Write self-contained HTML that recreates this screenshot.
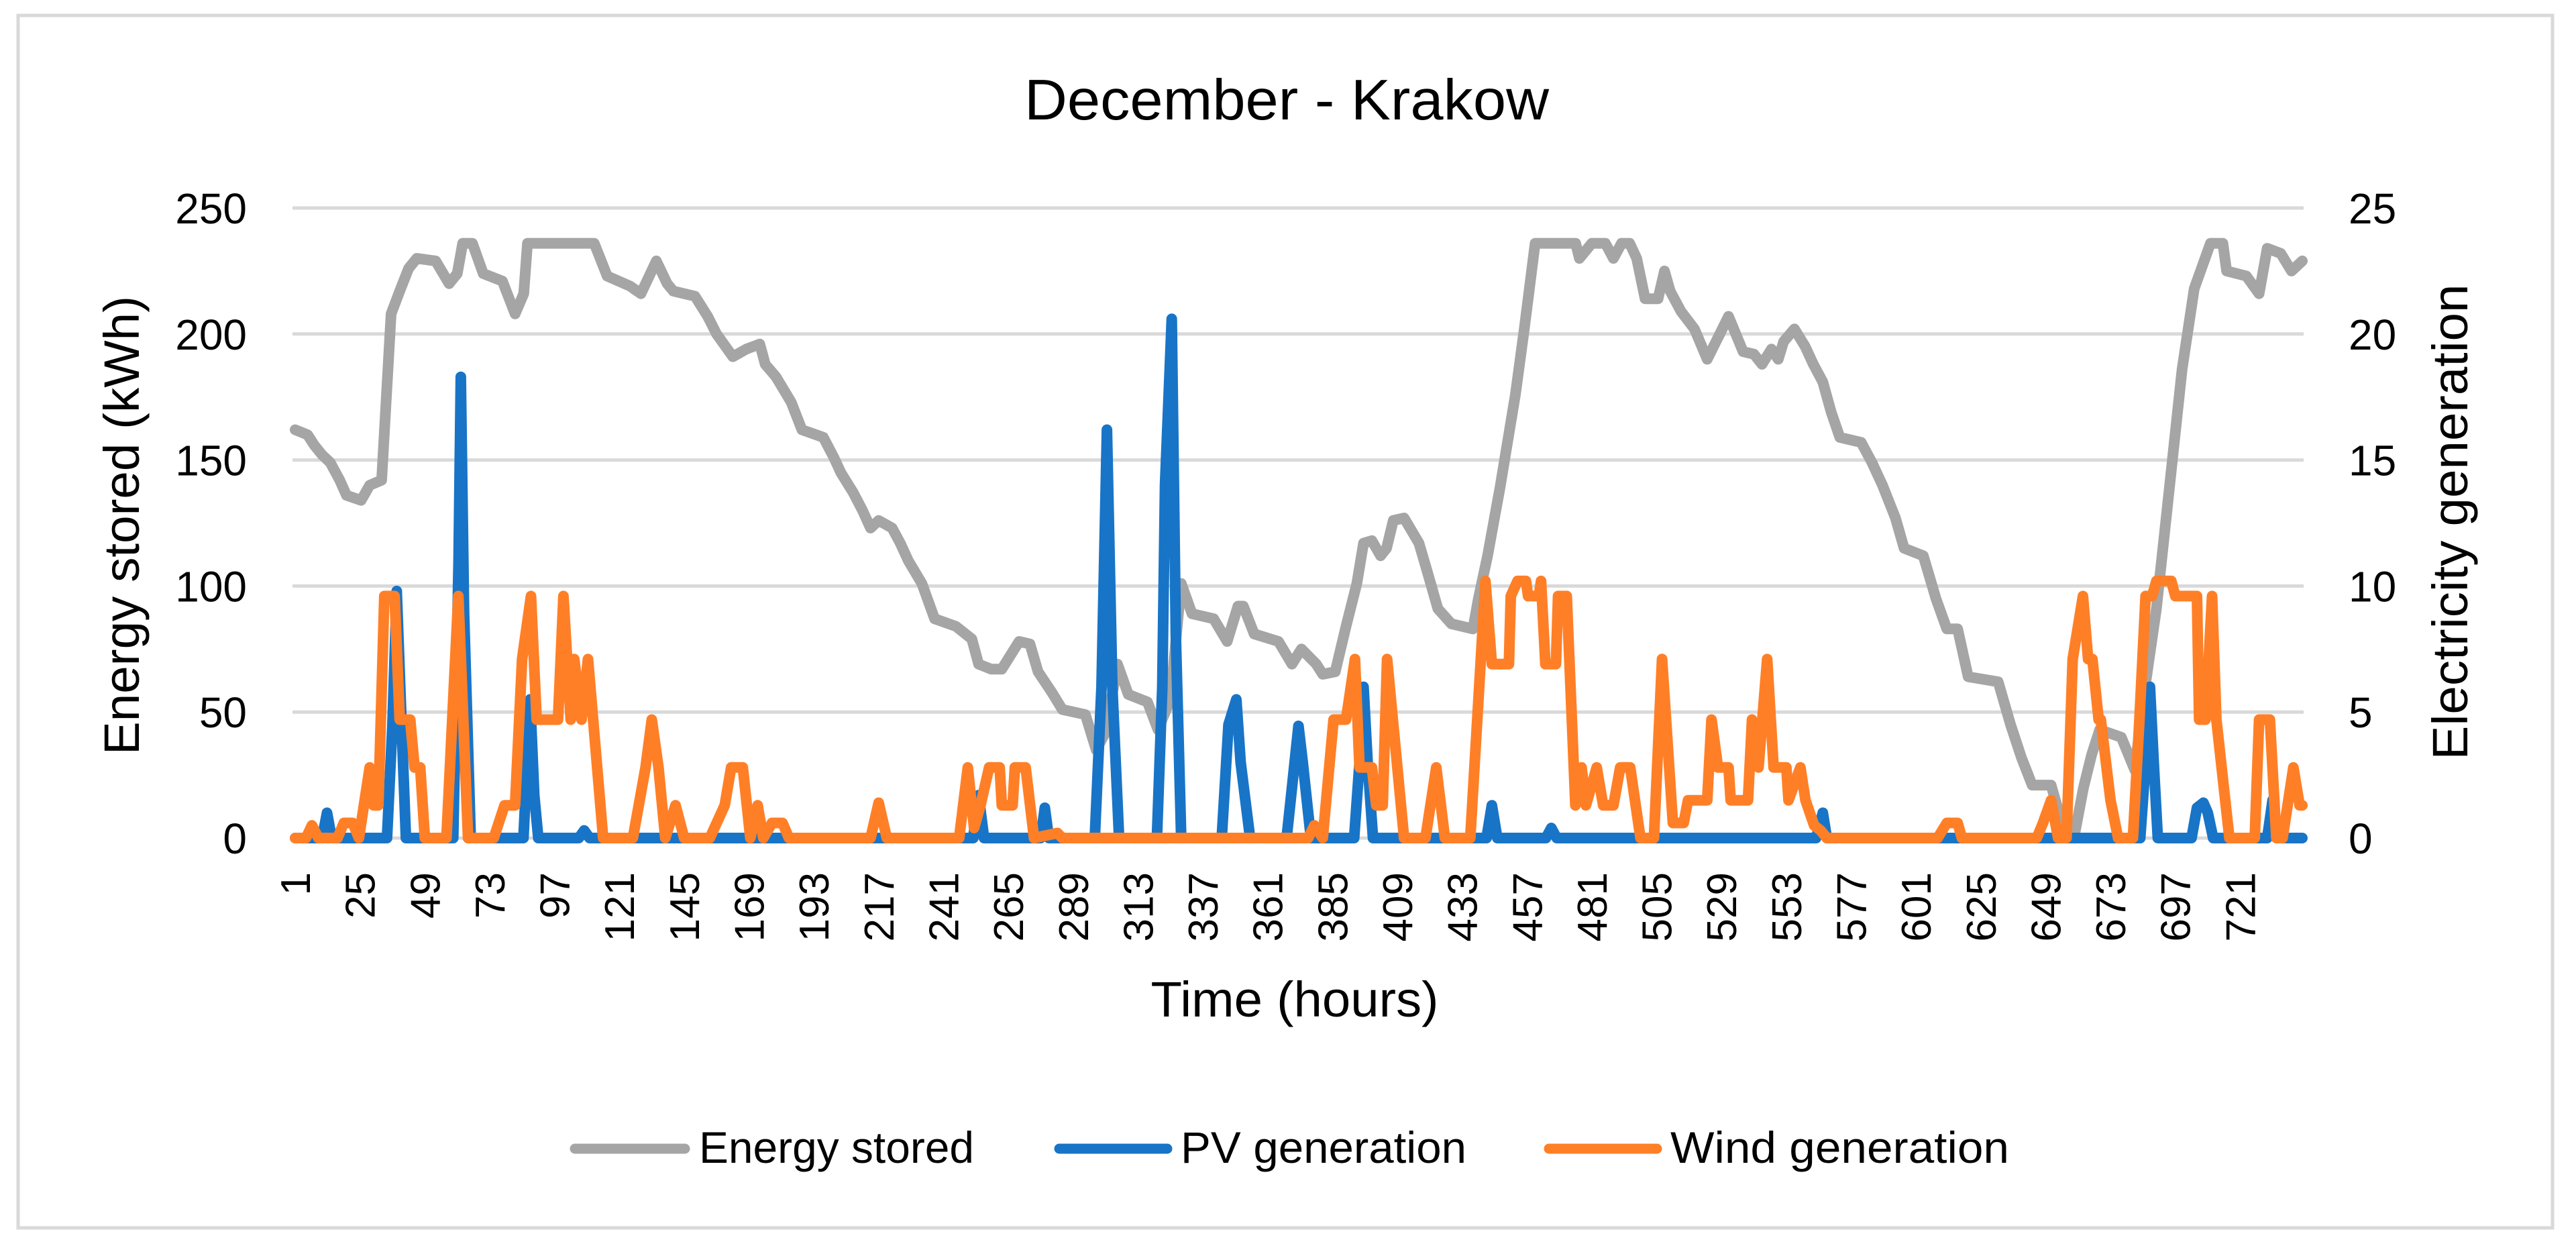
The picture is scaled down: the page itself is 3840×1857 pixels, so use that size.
<!DOCTYPE html>
<html><head><meta charset="utf-8"><style>
html,body{margin:0;padding:0;background:#fff}
svg{display:block}
text{font-family:"Liberation Sans",sans-serif;fill:#000}
</style></head><body>
<svg id="chart" width="3840" height="1857" viewBox="0 0 3840 1857" xmlns="http://www.w3.org/2000/svg">
<rect x="27" y="23" width="3778" height="1807" fill="#fff" stroke="#d9d9d9" stroke-width="5"/>
<text x="1918" y="178" font-size="85" text-anchor="middle" textLength="782" lengthAdjust="spacingAndGlyphs">December - Krakow</text>
<g id="grid"></g>
<g id="yleft"></g>
<g id="yright"></g>
<g id="xaxis"></g>
<g id="series"></g>
<text transform="translate(207,783) rotate(-90)" font-size="74" text-anchor="middle" textLength="684" lengthAdjust="spacingAndGlyphs">Energy stored (kWh)</text>
<text transform="translate(3678,778) rotate(-90)" font-size="74" text-anchor="middle" textLength="709" lengthAdjust="spacingAndGlyphs">Electricity generation</text>
<text x="1930" y="1515" font-size="74" text-anchor="middle" textLength="429" lengthAdjust="spacingAndGlyphs">Time (hours)</text>
<g>
<g>
<line x1="857" y1="1712" x2="1021" y2="1712" stroke="#a5a5a5" stroke-width="15" stroke-linecap="round"/>
<text x="1042" y="1733" font-size="66" textLength="410" lengthAdjust="spacingAndGlyphs">Energy stored</text></g>
<g>
<line x1="1579" y1="1712" x2="1740" y2="1712" stroke="#1874c7" stroke-width="15" stroke-linecap="round"/>
<text x="1760" y="1733" font-size="66" textLength="426" lengthAdjust="spacingAndGlyphs">PV generation</text></g>
<g>
<line x1="2309" y1="1712" x2="2470" y2="1712" stroke="#ff7f27" stroke-width="15" stroke-linecap="round"/>
<text x="2490" y="1733" font-size="66" textLength="505" lengthAdjust="spacingAndGlyphs">Wind generation</text></g>
</g>
</svg>
<script>
const leftTicks = [0, 50, 100, 150, 200, 250];
const rightTicks = [0, 5, 10, 15, 20, 25];
const xTickLabels = [1,25,49,73,97,121,145,169,193,217,241,265,289,313,337,361,385,409,433,457,481,505,529,553,577,601,625,649,673,697,721];
const energyHours = [1,5.6,8,11,14,17.5,20,25.4,28.6,33,36.5,39.7,43,46,53,58,61,63,66.6,70.6,77.7,82.4,85.6,87,111.7,116.5,125,129,134.7,138.7,141,149,153.7,157,163,168,173,175,179,184.6,188.6,196.5,200.4,203,207.6,211,214,217,222,225,228,233,237.7,245.6,251.5,254,258.7,262.6,269,273,276,281,285,293.5,297.5,301,305.4,309.4,316.5,320.4,325,329,333,341,346,350,352,356,365,370,373.5,379,381.4,386,390,394,396.5,399.6,402.8,405,407.5,411.5,417,420,424,429,437,439,442.4,447,452.7,456,460,475,476.4,481,486,489,492,495,497.6,500.7,505.5,507.9,510,514,519,523.7,531.6,537,541,544,547.5,550,552,556,560,563,566.5,569.6,572.8,580.7,584.7,588.6,593.4,596.6,603.7,608.4,612.4,616.4,620.3,631.4,636,640,644,651,655,660,663,666,669,677,682,685,690,694.8,699.5,704,710,714.6,716,723.3,728,731,736,740,744];
const energyValues = [162,160,156,152,149,142,136,134,140,142,208,217,226,230,229,220,224,236,236,224,221,208,216,236,236,223,219,216,229,220,217,215,207,200,191,194,196,188,183,173,162,159,151,145,137,130,123,126,123,117,110,101,87,84,79,69,67,67,78,77,66,58,51,49,35,42,69,57,54,43,55,101,89,87,78,92,92,81,78,69,75,69,65,66,84,101,117,118,112,115,126,127,117,106,91,85,83,95,112,139,176,202,236,236,230,236,236,230,236,236,230,214,214,225,217,209,202,190,207,193,192,188,194,190,197,202,195,188,181,169,159,157,149,140,127,115,112,95,83,83,64,62,45,32,21,21,6,3,20,33,43,40,27,54,91,139,186,218,236,236,225,223,216,234,232,225,229];
const pvHours = [1,11,12.8,14.5,35,37,38.6,40.5,42,59.5,61.5,62.3,63.5,66,85.5,88,89.5,91,106,108,110,252,254,256,277,278.5,280,297,299.5,301.5,303.5,306,320,322,323,325.5,327,329,344,346.5,349.4,351,354.5,368,370,372.4,374,377,393,395,396.5,398,400,442,444,446,464,466,468,564,566.5,568,684,686,687.6,689,690.5,703,705,707.4,709,711,731,733,735,744];
const pvValues = [0,0,1.0,0,0,4.5,9.8,4.2,0,0,11,18.3,9,0,0,5.5,1.7,0,0,0.3,0,0,1.7,0,0,1.2,0,0,6,16.2,6,0,0,6,14,20.6,8,0,0,4.5,5.5,3,0,0,2,4.45,3,0,0,3,6.0,3,0,0,1.3,0,0,0.4,0,0,1.0,0,0,3,6.0,3,0,0,1.2,1.4,1,0,0,1.5,0,0];
const windHours = [1,5,7.2,9.6,16.7,19,22.3,24.6,28.6,30,31.8,34,37.8,39.7,43.6,45.2,47.3,49,57,61.4,65,74.5,78.5,82.4,85,88.3,90.4,98.3,100.3,103,104.3,107,109.4,115,126,130.7,133,135.5,138,141.8,145,154.5,160,162.4,166.7,169.5,172.2,174.3,177.5,181.4,183.8,214,217,220,246.8,250,252.3,254.7,257.9,261.8,262.6,266.6,267.4,271.4,274.5,283.2,285,376,378.3,381.4,385.4,390,393.3,395,399.6,401.2,403.6,405.2,411.5,419.4,423.4,426.6,436,441.6,444,450.3,451,453.5,456.6,457.4,461.4,462.2,463.8,467.7,468.5,471.7,474.9,477.2,478.8,482.8,485.2,489,491.5,494,495.2,499,504,507,511,515,516.6,523.7,525.3,527.7,531.6,532.4,538.8,540.3,542.7,545.9,548.3,553,553.8,558.2,560.1,563.3,565.7,568,609,612.4,616.4,618,645.7,648,651,653.6,656.7,659,662.8,664.7,666.3,668.6,669.4,673,675.8,681.3,683.7,686,688.4,690,695.5,697,705,705.8,708.2,710.6,712.2,717,726.4,728,732,734.4,736.7,740.7,743,744];
const windValues = [0,0,0.5,0,0,0.6,0.6,0,2.8,1.3,1.3,9.6,9.6,4.7,4.7,2.8,2.8,0,0,9.6,0,0,1.3,1.3,7.1,9.6,4.7,4.7,9.6,4.7,7.1,4.7,7.1,0,0,2.8,4.7,2.8,0,1.3,0,0,1.3,2.8,2.8,0,1.3,0,0.6,0.6,0,0,1.4,0,0,2.8,0.4,1.3,2.8,2.8,1.3,1.3,2.8,2.8,0,0.2,0,0,0.5,0,4.7,4.7,7.1,2.8,2.8,1.3,1.3,7.1,0,0,2.8,0,0,10.2,6.9,6.9,9.6,10.2,10.2,9.6,9.6,10.2,6.9,6.9,9.6,9.6,1.3,2.8,1.3,2.8,1.3,1.3,2.8,2.8,2.8,0,0,7.1,0.6,0.6,1.5,1.5,4.7,2.8,2.8,1.5,1.5,4.7,2.8,7.1,2.8,2.8,1.5,2.8,1.5,0.5,0.3,0,0,0.6,0.6,0,0,0.6,1.5,0,0,7.1,9.6,7.1,7.1,4.7,4.7,1.5,0,0,4.7,9.6,9.6,10.2,10.2,9.6,9.6,4.7,4.7,9.6,4.7,0,0,4.7,4.7,0,0,2.8,1.3,1.3];

const NS = 'http://www.w3.org/2000/svg';
const X0 = 440, X1 = 3432, Y0 = 1249, Y1 = 310;
function xScale(h){ return X0 + (h - 1) * (X1 - X0) / 743; }
function yLeft(v){ return Y0 - v / 250 * (Y0 - Y1); }
function yRight(v){ return Y0 - v / 25 * (Y0 - Y1); }
function mk(tag, attrs, parent){
  const el = document.createElementNS(NS, tag);
  for (const k in attrs) el.setAttribute(k, attrs[k]);
  parent.appendChild(el);
  return el;
}
const grid = document.getElementById('grid');
const yl = document.getElementById('yleft');
const yr = document.getElementById('yright');
const xa = document.getElementById('xaxis');
const ser = document.getElementById('series');

leftTicks.forEach(v => {
  const ln = mk('line', {x1: 436, x2: 3434, y1: yLeft(v), y2: yLeft(v), stroke: '#d9d9d9', 'stroke-width': 5}, grid);
  
  
  const t = mk('text', {x: 368, y: yLeft(v) + 23, 'font-size': 64, 'text-anchor': 'end'}, yl);
  t.textContent = v;
  
  
});
rightTicks.forEach(v => {
  const t = mk('text', {x: 3501, y: yRight(v) + 23, 'font-size': 64, 'text-anchor': 'start'}, yr);
  t.textContent = v;
  
  
});
xTickLabels.forEach(h => {
  const x = xScale(h);
  const t = mk('text', {transform: 'translate(' + (x + 22) + ',1300) rotate(-90)', 'font-size': 62, 'text-anchor': 'end'}, xa);
  t.textContent = h;
  
  
});

function drawLine(hours, vals, yfn, color, name){
  const pts = hours.map((h, i) => xScale(h).toFixed(1) + ',' + yfn(vals[i]).toFixed(1)).join(' ');
  const pl = mk('polyline', {points: pts, fill: 'none', stroke: color, 'stroke-width': 16, 'stroke-linejoin': 'round', 'stroke-linecap': 'round'}, ser);
  
  
}
drawLine(energyHours, energyValues, yLeft, '#a5a5a5', 'energy-stored-line');
drawLine(pvHours, pvValues, yRight, '#1874c7', 'pv-generation-line');
drawLine(windHours, windValues, yRight, '#ff7f27', 'wind-generation-line');
</script>
</body></html>
